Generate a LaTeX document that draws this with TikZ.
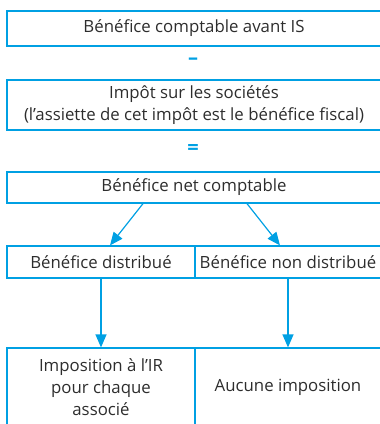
\documentclass[tikz,border=0pt]{standalone}
\usepackage{fontspec}
\setmainfont{Open Sans}
\usepackage{tikz}
\usetikzlibrary{arrows.meta,positioning}

\definecolor{bleu}{RGB}{0,160,227}
\definecolor{texte}{RGB}{45,45,45}

\begin{document}
\begin{tikzpicture}[x=1pt, y=-1pt,
        boite/.style={rectangle, draw=bleu, line width=1.2pt, text=texte, font=\fontsize{16.8}{22}\selectfont, align=center, inner sep=0pt},
        signe/.style={text=bleu, font=\fontsize{20}{20}\selectfont\bfseries},
        fleche/.style={-{Triangle[length=13pt,width=11pt]}, line width=1.2pt, bleu},
    ]
        \useasboundingbox (0,0) rectangle (380,424);

        % Calcul du benefice
        \node[boite, minimum width=374pt, minimum height=35pt] (avant) at (194,28.5) {Bénéfice comptable avant IS};
        \node[signe] (moins) at (193,61) {–};
        \node[boite, minimum width=374pt, minimum height=50pt] (impot) at (194,105) {Impôt sur les sociétés\\(l’assiette de cet impôt est le bénéfice fiscal)};
        \node[signe] (egal) at (193,149) {=};
        \node[boite, minimum width=374pt, minimum height=31pt] (net) at (194,187.5) {Bénéfice net comptable};

        % Repartition
        \node[boite, minimum width=188pt, minimum height=32pt] (distrib) at (101,262) {Bénéfice distribué};
        \node[boite, minimum width=186pt, minimum height=32pt] (nondistrib) at (288,262) {Bénéfice non distribué};
        \draw[fleche] ([xshift=-51pt]net.south) -- ([xshift=9pt]distrib.north);
        \draw[fleche] ([xshift=53pt]net.south) -- ([xshift=-8pt]nondistrib.north);

        % Imposition
        \node[boite, minimum width=188pt, minimum height=78pt] (ir) at (101,387) {Imposition à l’IR\\pour chaque\\associé};
        \node[boite, minimum width=186pt, minimum height=78pt] (aucune) at (288,387) {Aucune imposition};
        \draw[fleche] (distrib) -- (ir);
        \draw[fleche] (nondistrib) -- (aucune);
    \end{tikzpicture}
\end{document}
